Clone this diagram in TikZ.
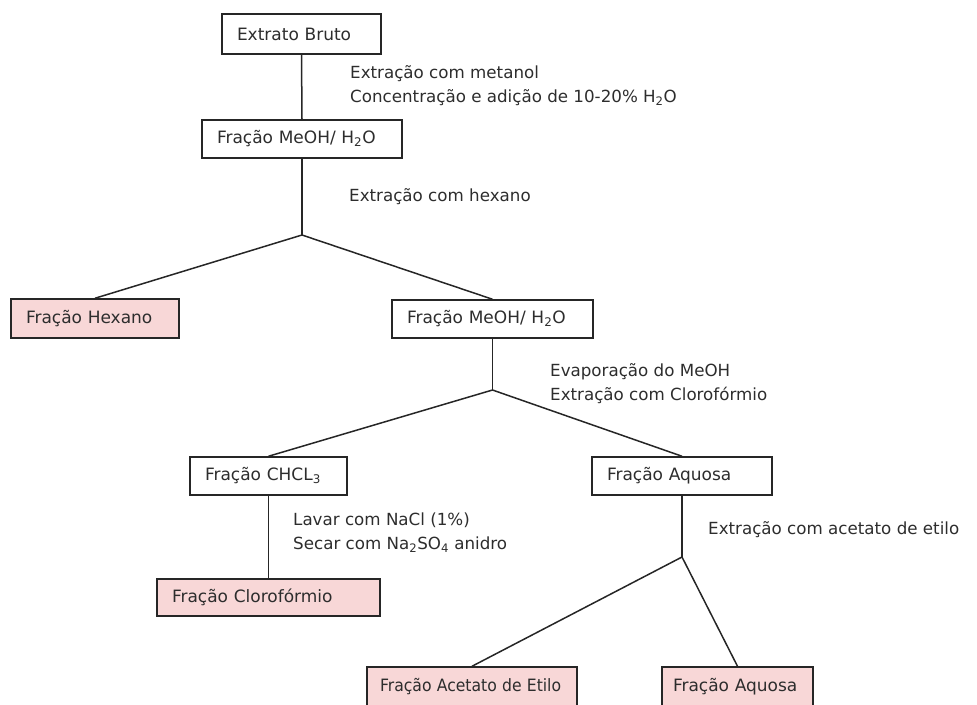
\documentclass[tikz,border=0pt]{standalone}
\usepackage{fontspec}
\usepackage{graphicx}
\setmainfont{DejaVu Sans}
\usetikzlibrary{calc}
\definecolor{txt}{RGB}{45,45,45}
\definecolor{pinkfill}{RGB}{248,215,215}
\tikzset{
  box/.style={draw=black!85, line width=1.5pt, fill=white, inner xsep=15pt, inner ysep=0pt,
    text=txt, align=left, minimum height=38pt,
    font=\fontsize{17}{20}\selectfont},
  pinkbox/.style={box, fill=pinkfill},
  lbl/.style={anchor=west, align=left, text=txt, inner sep=0pt,
    font=\fontsize{16.7}{24}\selectfont},
  conn/.style={draw=black!85, line width=1.5pt}
}
\begin{document}
\begin{tikzpicture}[x=1pt,y=-1pt]
\useasboundingbox (0,0) rectangle (977,704);
\node[box, text width=129pt, minimum height=40pt] (eb) at (301.5,34) {\mbox{Extrato Bruto}};
\node[box, text width=170pt] (m1) at (302,139) {\mbox{Fração MeOH/ H\textsubscript{2}O}};
\node[pinkbox, text width=138pt, minimum height=39pt] (hex) at (95,318.5) {\mbox{Fração Hexano}};
\node[box, text width=171pt] (m2) at (492.5,319) {\mbox{Fração MeOH/ H\textsubscript{2}O}};
\node[box, text width=127pt] (ch) at (268.5,476) {\mbox{Fração CHCL\textsubscript{3}}};
\node[box, text width=150pt] (aq) at (682,476) {\mbox{Fração Aquosa}};
\node[pinkbox, text width=193pt, minimum height=37pt] (cl) at (268.5,597.5) {\mbox{Fração Clorofórmio}};
\node[pinkbox, text width=184pt, inner xsep=13pt, minimum height=40pt] (ac) at (472,687) {\mbox{\scalebox{0.92}[1]{Fração Acetato de Etilo}}};
\node[pinkbox, text width=129pt, inner xsep=11pt, minimum height=40pt] (aq2) at (737.5,687) {\mbox{Fração Aquosa}};

\coordinate (b1) at (302,235);
\coordinate (b2) at (492.5,390);
\coordinate (b3) at (682,557);

\node[lbl] (t1) at (350,86) {Extração com metanol\\Concentração e adição de 10-20\% H\textsubscript{2}O};
\node[lbl] (t2) at (349,197) {Extração com hexano};
\node[lbl] (t3) at (550,384) {Evaporação do MeOH\\Extração com Clorofórmio};
\node[lbl] (t4) at (293,533) {Lavar com NaCl (1\%)\\Secar com Na\textsubscript{2}SO\textsubscript{4} anidro};
\node[lbl] (t5) at (708,530) {Extração com acetato de etilo};

\draw[conn] (eb.south) -- (m1.north);
\draw[conn] (m1.south) -- (b1);
\draw[conn] (hex.north) -- (b1) -- (m2.north);
\draw[conn] (m2.south) -- (b2);
\draw[conn] (ch.north) -- (b2) -- (aq.north);
\draw[conn] (ch.south) -- (cl.north);
\draw[conn] (aq.south) -- (b3);
\draw[conn] (ac.north) -- (b3) -- (aq2.north);
\end{tikzpicture}
\end{document}
